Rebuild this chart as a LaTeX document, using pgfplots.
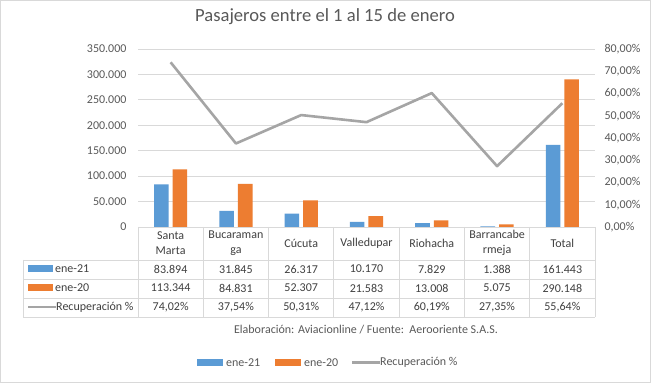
\documentclass[border=0pt]{standalone}
\usepackage{fontspec}
\setmainfont{Carlito}
\usepackage{pgfplots}
\pgfplotsset{compat=1.18}
\definecolor{bblue}{HTML}{5B9BD5}
\definecolor{borange}{HTML}{ED7D31}
\definecolor{lgray}{HTML}{A5A5A5}
\definecolor{gridc}{HTML}{D9D9D9}
\definecolor{txt}{HTML}{595959}
\definecolor{ttxt}{HTML}{404040}
\begin{document}
\begin{tikzpicture}[x=1pt,y=1pt]
\fill[white] (0,0) rectangle (651,383);
\draw[gridc] (0.5,0.5) rectangle (650.5,382.5);
\node[text=txt, font=\fontsize{18.6}{22}\selectfont] at (325,366) {Pasajeros entre el 1 al 15 de enero};
\begin{axis}[at={(138pt,156pt)}, anchor=south west, scale only axis,
  width=457pt, height=178pt, xmin=-0.5, xmax=6.5, ymin=0, ymax=350000,
  ytick={0,50000,...,350000}, xtick=\empty, scaled y ticks=false,
  axis line style={draw=none}, major tick length=0pt,
  ymajorgrids, grid style={gridc, line width=0.8pt},
  /pgf/number format/.cd, fixed, 1000 sep={.}, assume math mode=true, /pgfplots/.cd,
  yticklabel style={font=\fontsize{12}{14}\selectfont, text=txt, xshift=-8pt},
  clip=false]
\addplot[ybar, bar width=14.6pt, bar shift=-9.3pt, fill=bblue, draw=none] coordinates {
 (0,83894) (1,31845) (2,26317) (3,10170) (4,7829) (5,1388) (6,161443)};
\addplot[ybar, bar width=14.6pt, bar shift=9.3pt, fill=borange, draw=none] coordinates {
 (0,113344) (1,84831) (2,52307) (3,21583) (4,13008) (5,5075) (6,290148)};
\end{axis}
\begin{axis}[at={(138pt,156pt)}, anchor=south west, scale only axis,
  width=457pt, height=178pt, xmin=-0.5, xmax=6.5, ymin=0, ymax=80,
  axis y line*=right, axis x line=none, axis line style={draw=none},
  major tick length=0pt, ytick={0,10,...,80},
  yticklabels={{0,00\%},{10,00\%},{20,00\%},{30,00\%},{40,00\%},{50,00\%},{60,00\%},{70,00\%},{80,00\%}},
  yticklabel style={font=\fontsize{12}{14}\selectfont, text=txt, xshift=6pt},
  clip=false]
\addplot[lgray, line width=2.6pt, line join=round, mark=none] coordinates {
 (0,74.02) (1,37.54) (2,50.31) (3,47.12) (4,60.19) (5,27.35) (6,55.64)};
\end{axis}
% data table
\draw[gridc, line width=0.8pt] (138,156) -- (595,156);
\foreach \yy in {123,104,85,66} {\draw[gridc, line width=0.8pt] (23,\yy) -- (595,\yy);}
\draw[gridc, line width=0.8pt] (23,123) -- (23,66);
\foreach \i in {0,...,7} {\draw[gridc, line width=0.8pt] ({138+65.286*\i},156) -- ({138+65.286*\i},66);}
\foreach \name [count=\i from 0] in {{Santa\\Marta},{Bucaraman\\ga},{Cúcuta},{Valledupar},{Riohacha},{Barrancabe\\rmeja},{Total}} {
  \node[align=center, text=ttxt, font=\fontsize{12}{15}\selectfont] at ({138+65.286*(\i+0.5)},140) {\name};}
\foreach \v [count=\i from 0] in {83.894,31.845,26.317,10.170,7.829,1.388,161.443} {
  \node[text=ttxt, font=\fontsize{12}{14}\selectfont] at ({138+65.286*(\i+0.5)},114) {\v};}
\foreach \v [count=\i from 0] in {113.344,84.831,52.307,21.583,13.008,5.075,290.148} {
  \node[text=ttxt, font=\fontsize{12}{14}\selectfont] at ({138+65.286*(\i+0.5)},95) {\v};}
\foreach \v [count=\i from 0] in {{74,02\%},{37,54\%},{50,31\%},{47,12\%},{60,19\%},{27,35\%},{55,64\%}} {
  \node[text=ttxt, font=\fontsize{12}{14}\selectfont] at ({138+65.286*(\i+0.5)},76) {\v};}
% legend keys in table
\fill[bblue] (28,111) rectangle (53,118);
\node[anchor=west, text=ttxt, font=\fontsize{12}{14}\selectfont, inner sep=0pt] at (55,114) {ene-21};
\fill[borange] (28,92) rectangle (53,99);
\node[anchor=west, text=ttxt, font=\fontsize{12}{14}\selectfont, inner sep=0pt] at (55,95) {ene-20};
\draw[lgray, line width=2.6pt] (28,76) -- (56,76);
\node[anchor=west, text=ttxt, font=\fontsize{12}{14}\selectfont, inner sep=0pt] at (56,76) {Recuperación \%};
% source
\node[text=txt, font=\fontsize{12}{14}\selectfont] at (366,53) {Elaboración: Aviacionline / Fuente:\ \ Aerooriente S.A.S.};
% legend
\fill[bblue] (197,17) rectangle (223,24);
\node[anchor=west, text=txt, font=\fontsize{12}{14}\selectfont, inner sep=0pt] at (226,20.5) {ene-21};
\fill[borange] (275,17) rectangle (301,24);
\node[anchor=west, text=txt, font=\fontsize{12}{14}\selectfont, inner sep=0pt] at (304,20.5) {ene-20};
\draw[lgray, line width=2.6pt] (352,20.5) -- (380,20.5);
\node[anchor=west, text=txt, font=\fontsize{12}{14}\selectfont, inner sep=0pt] at (380,20.5) {Recuperación \%};
\end{tikzpicture}
\end{document}
